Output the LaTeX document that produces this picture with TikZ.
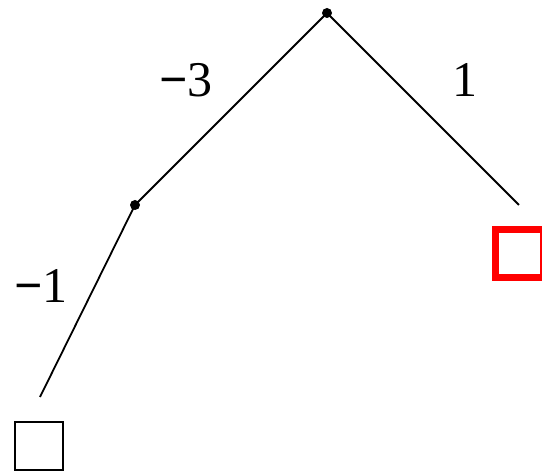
\documentclass[tikz,border=0pt]{standalone}
\usepackage{fontspec}
\setmainfont{Liberation Serif}
\usetikzlibrary{positioning}
\definecolor{cred}{RGB}{255,0,0}
\begin{document}
\begin{tikzpicture}[x=1pt,y=-1pt,
  edge/.style={line width=1.8pt},
  dot/.style={circle,fill=black,inner sep=0pt,minimum size=10pt},
  leaf/.style={draw,inner sep=0pt,minimum size=48pt},
  wt/.style={font=\fontsize{50}{50}\selectfont,inner sep=0pt},
]
\useasboundingbox (0,0) rectangle (542,473);

% ===== tree =====
\node[dot] (root) at (327,13) {};
\node[dot] (mid) at (135,205) {};
\coordinate (endl) at (40,397);
\coordinate (endr) at (519,205);
\draw[edge] (root.center)--(mid.center);
\draw[edge] (mid.center)--(endl);
\draw[edge] (root.center)--(endr);

% ===== leaves =====
\node[leaf,line width=1.8pt] (leafl) at (39,446) {};
\node[leaf,draw=cred,line width=7pt] (leafr) at (519,253.5) {};

% ===== weights =====
\node[wt] (wa) at (186,80) {\textbf{−}3};
\node[wt] (wb) at (465,80) {1};
\node[wt] (wc) at (41,286) {\textbf{−}1};
\end{tikzpicture}
\end{document}
